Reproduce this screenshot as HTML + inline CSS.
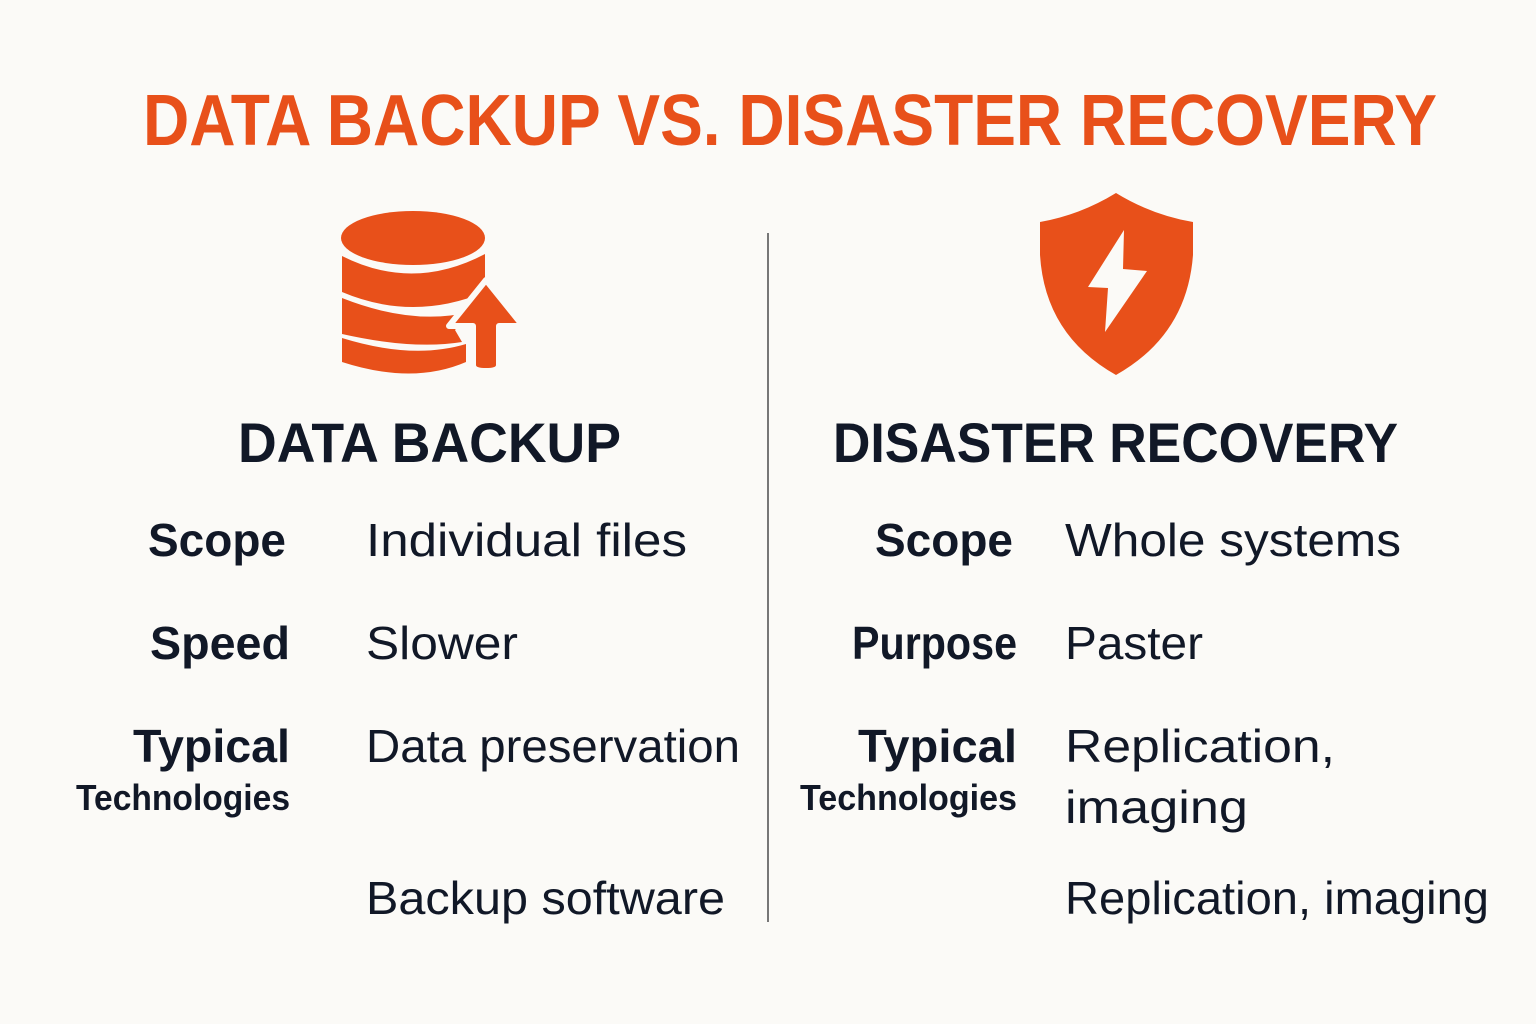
<!DOCTYPE html>
<html><head><meta charset="utf-8"><style>
html,body{margin:0;padding:0;background:#FBFAF7;}
svg{display:block}
text{font-family:"Liberation Sans",sans-serif;}
.b{font-weight:bold;fill:#111827}
.n{fill:#111827}
</style></head><body>
<svg width="1536" height="1024" viewBox="0 0 1536 1024" xmlns="http://www.w3.org/2000/svg">
<rect width="1536" height="1024" fill="#FBFAF7"/>
<text x="143" y="145" font-size="72" font-weight="bold" fill="#E8501A" textLength="1294" lengthAdjust="spacingAndGlyphs">DATA BACKUP VS. DISASTER RECOVERY</text>
<line x1="768" y1="233" x2="768" y2="922" stroke="#777" stroke-width="2"/>
<g fill="#E8501A">
<ellipse cx="413" cy="238" rx="72" ry="27"/>
<path d="M342 256 Q413 292 485 254 L485 292 Q413 322 342 292 Z"/>
<path d="M342 298 Q413 326 470 312 L455 330 L462 342 Q413 350 342 334 Z"/>
<path d="M342 338 Q413 360 466 344 L466 362 Q413 385 342 362 Z"/>
<path d="M486 280 L523 326 L499 326 L499 365 Q499 371 486 371 Q473 371 473 365 L473 326 L449 326 Z" stroke="#FBFAF7" stroke-width="6" stroke-linejoin="round"/>
</g>
<path d="M1116 193 Q1080 215 1040 222 L1040 255 Q1045 335 1116 375 Q1187 335 1193 255 L1193 222 Q1152 215 1116 193 Z" fill="#E8501A"/>
<polygon points="1124,230 1123,269 1147,271 1105,332 1108,288 1088,287" fill="#FBFAF7"/>
<text x="238" y="462" font-size="56" class="b" textLength="383" lengthAdjust="spacingAndGlyphs">DATA BACKUP</text>
<text x="833" y="462" font-size="56" class="b" textLength="565" lengthAdjust="spacingAndGlyphs">DISASTER RECOVERY</text>
<g font-size="46">
<text x="148" y="556" class="b" textLength="138" lengthAdjust="spacingAndGlyphs">Scope</text>
<text x="366" y="556" class="n" textLength="321" lengthAdjust="spacingAndGlyphs">Individual files</text>
<text x="150" y="659" class="b" textLength="140" lengthAdjust="spacingAndGlyphs">Speed</text>
<text x="366" y="659" class="n" textLength="152" lengthAdjust="spacingAndGlyphs">Slower</text>
<text x="133" y="762" class="b" textLength="157" lengthAdjust="spacingAndGlyphs">Typical</text>
<text x="366" y="762" class="n" textLength="374" lengthAdjust="spacingAndGlyphs">Data preservation</text>
<text x="366" y="914" class="n" textLength="359" lengthAdjust="spacingAndGlyphs">Backup software</text>
<text x="875" y="556" class="b" textLength="138" lengthAdjust="spacingAndGlyphs">Scope</text>
<text x="1065" y="556" class="n" textLength="336" lengthAdjust="spacingAndGlyphs">Whole systems</text>
<text x="852" y="659" class="b" textLength="165" lengthAdjust="spacingAndGlyphs">Purpose</text>
<text x="1065" y="659" class="n" textLength="138" lengthAdjust="spacingAndGlyphs">Paster</text>
<text x="858" y="762" class="b" textLength="159" lengthAdjust="spacingAndGlyphs">Typical</text>
<text x="1065" y="762" class="n" textLength="270" lengthAdjust="spacingAndGlyphs">Replication,</text>
<text x="1065" y="823" class="n" textLength="183" lengthAdjust="spacingAndGlyphs">imaging</text>
<text x="1065" y="914" class="n" textLength="424" lengthAdjust="spacingAndGlyphs">Replication, imaging</text>
</g>
<text x="76" y="810" font-size="36" class="b" textLength="214" lengthAdjust="spacingAndGlyphs">Technologies</text>
<text x="800" y="810" font-size="36" class="b" textLength="217" lengthAdjust="spacingAndGlyphs">Technologies</text>
</svg>
</body></html>
